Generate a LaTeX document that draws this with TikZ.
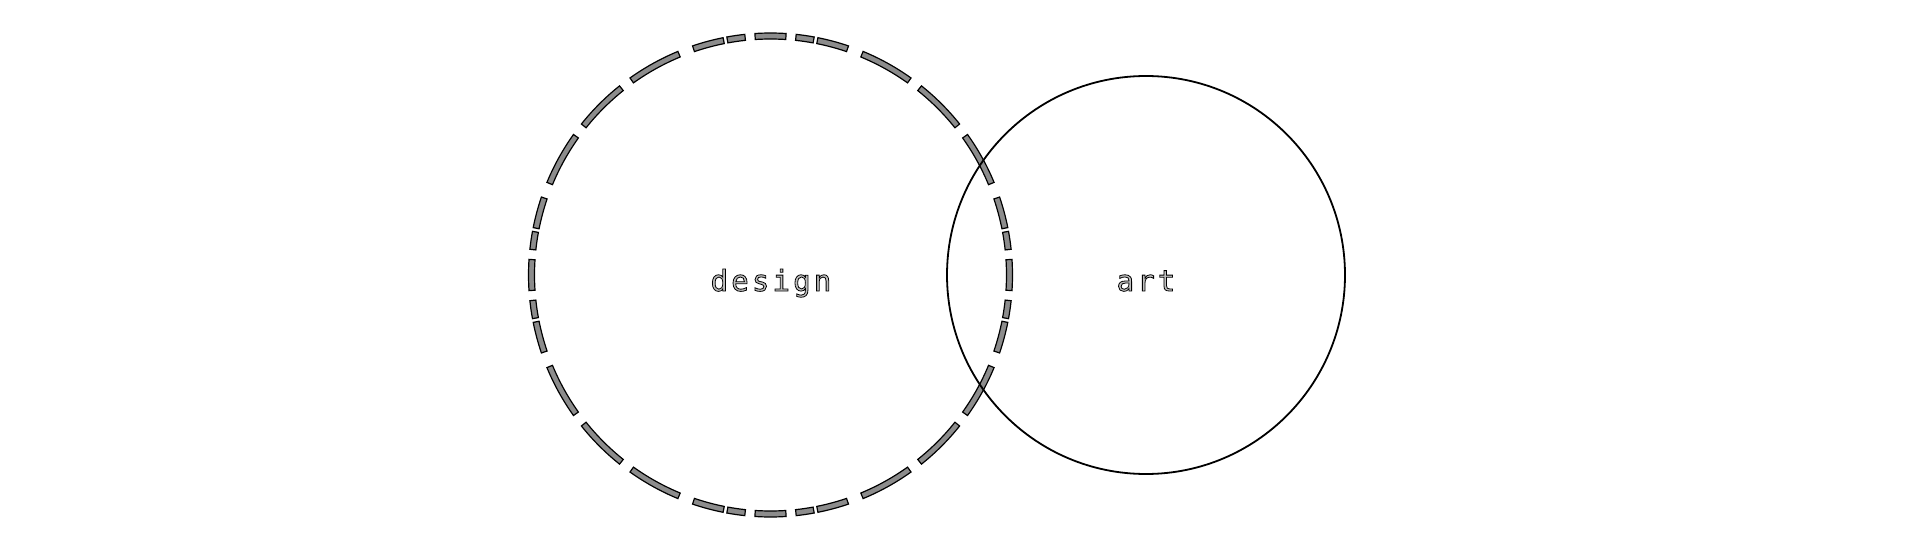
\documentclass[tikz,border=0pt]{standalone}
\usepackage{fontspec}
\usetikzlibrary{calc}
\newfontfamily\lblfont[LetterSpace=11]{DejaVu Sans Mono}
\tikzset{
  dashseg/.style={draw=black, line width=1.2pt, fill=black!45},
  solidring/.style={draw=black, line width=1.8pt},
  lbl/.style={anchor=base, inner sep=0pt, font=\lblfont\fontsize{29}{35}\selectfont, text=black!25}
}
\newcommand{\outlinetext}[1]{\special{pdf:literal direct 0 G 0.8 w 2 Tr}#1\special{pdf:literal direct 0 Tr}}
\begin{document}
\begin{tikzpicture}[x=1pt, y=1pt]
\useasboundingbox (0,0) rectangle (1920,550);
\coordinate (dc) at (770.5,275);
\coordinate (sc) at (1146,275);
% dashed circle (design)
\foreach \q in {0,90,180,270}{
  \foreach \a/\b in {-3.7/3.7, 6.1/10.4, 11.3/18.8, 22.5/35.5, 38.6/51.4, 54.5/67.5, 71.2/78.7, 79.6/83.9}{
    \pgfmathsetmacro{\sa}{\q+\a}
    \pgfmathsetmacro{\sb}{\q+\b}
    \draw[dashseg] ($(dc)+(\sa:236)$)
      arc[start angle=\sa, end angle=\sb, radius=236]
      -- ($(dc)+(\sb:242)$)
      arc[start angle=\sb, end angle=\sa, radius=242] -- cycle;
  }
}
% solid circle (art)
\draw[solidring] (sc) circle[radius=199];
% labels
\node[lbl] (design) at (771,259) {\outlinetext{design}};
\node[lbl] (art) at (1146,259) {\outlinetext{art}};
\end{tikzpicture}
\end{document}
